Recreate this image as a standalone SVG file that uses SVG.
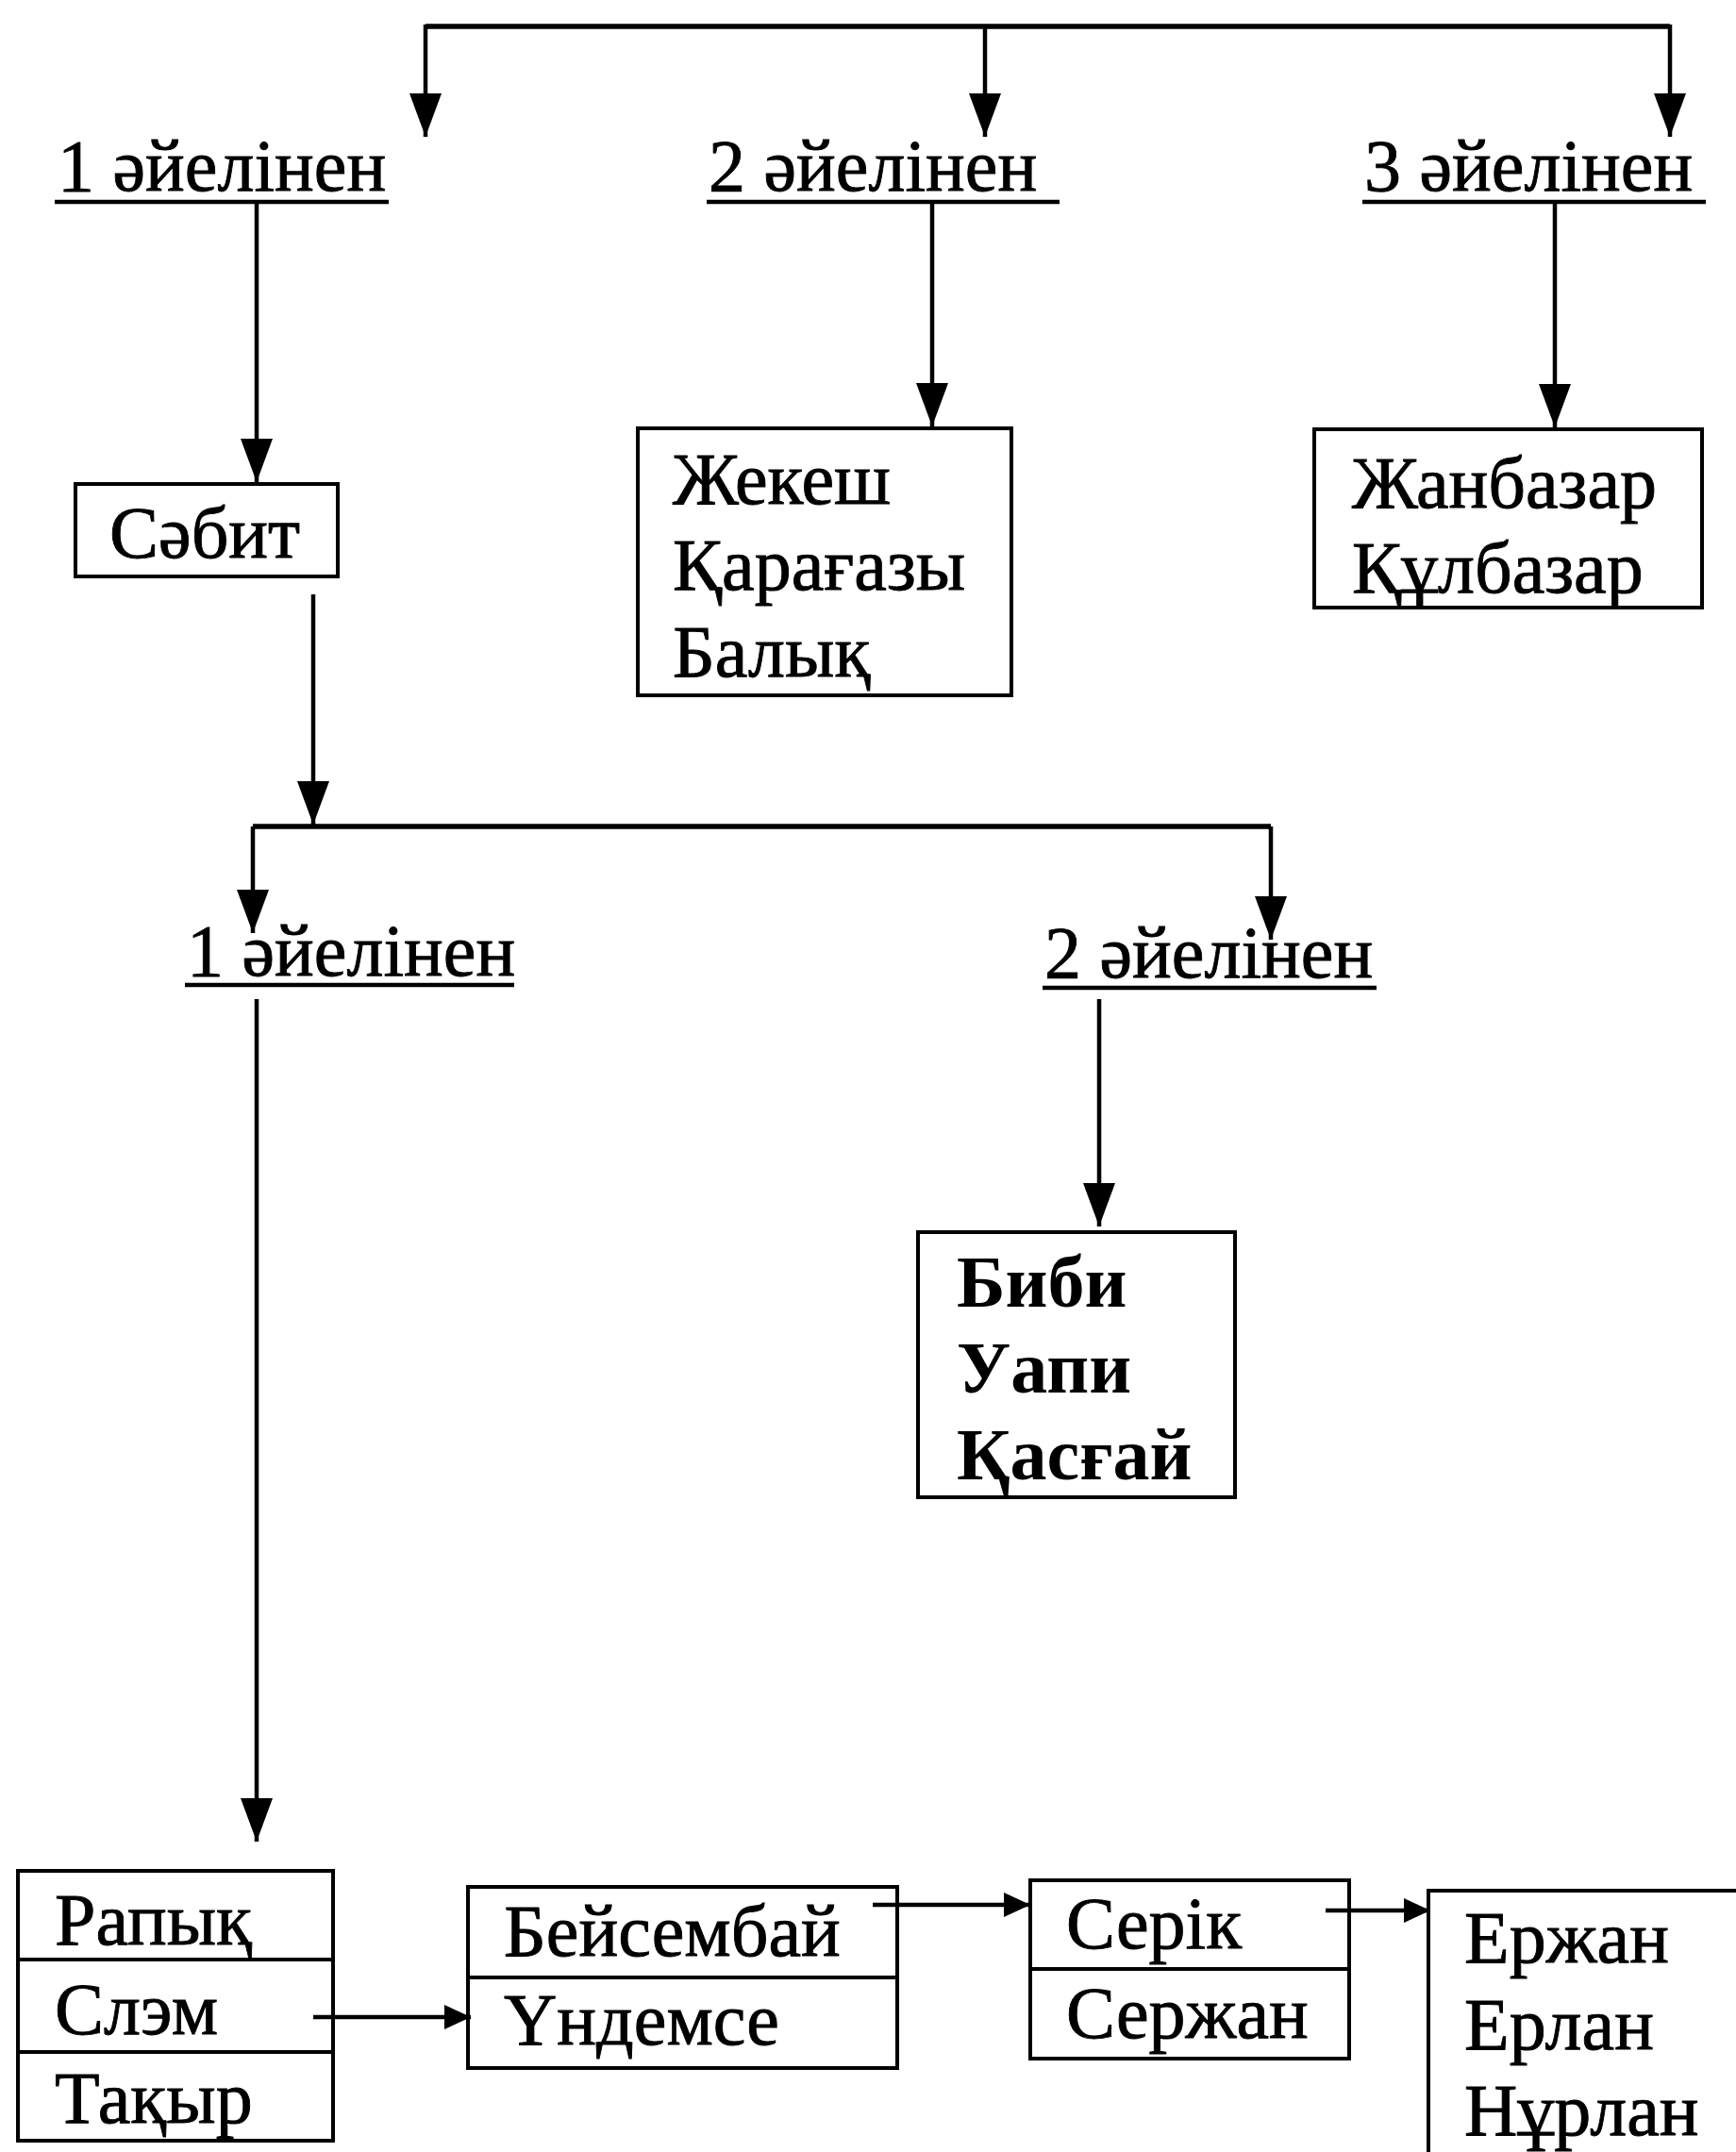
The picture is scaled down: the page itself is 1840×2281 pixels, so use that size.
<svg xmlns="http://www.w3.org/2000/svg" width="1840" height="2281" viewBox="0 0 1840 2281">
<style>
text{font-family:"Liberation Serif","Times New Roman",serif;font-size:78px;fill:#000;stroke:#000;stroke-width:0.9}
.b{font-weight:bold;stroke-width:0}
.box{fill:none;stroke:#000;stroke-width:4}
.ln{fill:none;stroke:#000;stroke-width:4}
.bar{fill:none;stroke:#000;stroke-width:5.5}
.ul{stroke:#000;stroke-width:4.5}
.c{fill:none;stroke:#000;stroke-width:4.5;marker-end:url(#ah)}
.h{fill:none;stroke:#000;stroke-width:4.5;marker-end:url(#ahs)}
</style>
<defs>
<marker id="ah" viewBox="0 0 46 34" refX="46" refY="17" markerWidth="46" markerHeight="34" orient="auto" markerUnits="userSpaceOnUse"><path d="M0,0 L46,17 L0,34 z" fill="#000"/></marker>
<marker id="ahs" viewBox="0 0 28 26" refX="28" refY="13" markerWidth="28" markerHeight="26" orient="auto" markerUnits="userSpaceOnUse"><path d="M0,0 L28,13 L0,26 z" fill="#000"/></marker>
</defs>
<rect width="1840" height="2281" fill="#fff"/>
<g id="connectors">
<path class="bar" d="M451,28 H1770"/>
<path class="c" d="M451,26 V145"/>
<path class="c" d="M1044,26 V145"/>
<path class="c" d="M1770,26 V145"/>
<path class="c" d="M272,214 V511"/>
<path class="c" d="M988,214 V452"/>
<path class="c" d="M1648,214 V453"/>
<path class="c" d="M332,630 V874"/>
<path class="bar" d="M268,876 H1347"/>
<path class="c" d="M268,876 V989"/>
<path class="c" d="M1347,876 V996"/>
<path class="c" d="M272,1059 V1952"/>
<path class="c" d="M1165,1059 V1300"/>
<path class="h" d="M332,2138 H499"/>
<path class="h" d="M925,2019 H1092"/>
<path class="h" d="M1405,2025 H1516"/>
</g>
<g id="label-top-1"><text x="61" y="202">1 әйелінен</text><line class="ul" x1="58" y1="214" x2="412" y2="214"/></g>
<g id="label-top-2"><text x="751" y="202">2 әйелінен</text><line class="ul" x1="749" y1="214" x2="1123" y2="214"/></g>
<g id="label-top-3"><text x="1446" y="202">3 әйелінен</text><line class="ul" x1="1444" y1="214" x2="1808" y2="214"/></g>
<g id="sabit"><rect class="box" x="80" y="513" width="278" height="98"/><text x="116" y="591">Сәбит</text></g>
<g id="wife2-children"><rect class="box" x="676" y="454" width="396" height="283"/><text x="713" y="534">Жекеш</text><text x="713" y="625">Қарағазы</text><text x="713" y="717">Балық</text></g>
<g id="wife3-children"><rect class="box" x="1393" y="455" width="411" height="189"/><text x="1433" y="538">Жанбазар</text><text x="1433" y="628">Құлбазар</text></g>
<g id="label-mid-1"><text x="198" y="1034">1 әйелінен</text><line class="ul" x1="196" y1="1044" x2="545" y2="1044"/></g>
<g id="label-mid-2"><text x="1107" y="1036">2 әйелінен</text><line class="ul" x1="1105" y1="1047" x2="1459" y2="1047"/></g>
<g id="bibi"><rect class="box" x="973" y="1306" width="336" height="281"/><text class="b" x="1014" y="1385">Биби</text><text class="b" x="1014" y="1476">Уапи</text><text class="b" x="1014" y="1568">Қасғай</text></g>
<g id="rapyk"><rect class="box" x="19" y="1983" width="334" height="286"/><line class="ln" x1="19" y1="2077" x2="353" y2="2077"/><line class="ln" x1="19" y1="2175" x2="353" y2="2175"/><text x="58" y="2061">Рапық</text><text x="58" y="2156">Слэм</text><text x="58" y="2250">Тақыр</text></g>
<g id="beisembai"><rect class="box" x="496" y="2000" width="455" height="192"/><line class="ln" x1="496" y1="2096" x2="951" y2="2096"/><text x="534" y="2073">Бейсембай</text><text x="534" y="2167">Үндемсе</text></g>
<g id="serik"><rect class="box" x="1092" y="1993" width="338" height="189"/><line class="ln" x1="1092" y1="2087" x2="1430" y2="2087"/><text x="1130" y="2065">Серік</text><text x="1130" y="2160">Сержан</text></g>
<g id="erzhan"><path class="box" d="M1514,2281 V2004 H1840"/><text x="1552" y="2080">Ержан</text><text x="1552" y="2172">Ерлан</text><text x="1552" y="2263">Нұрлан</text></g>
</svg>
